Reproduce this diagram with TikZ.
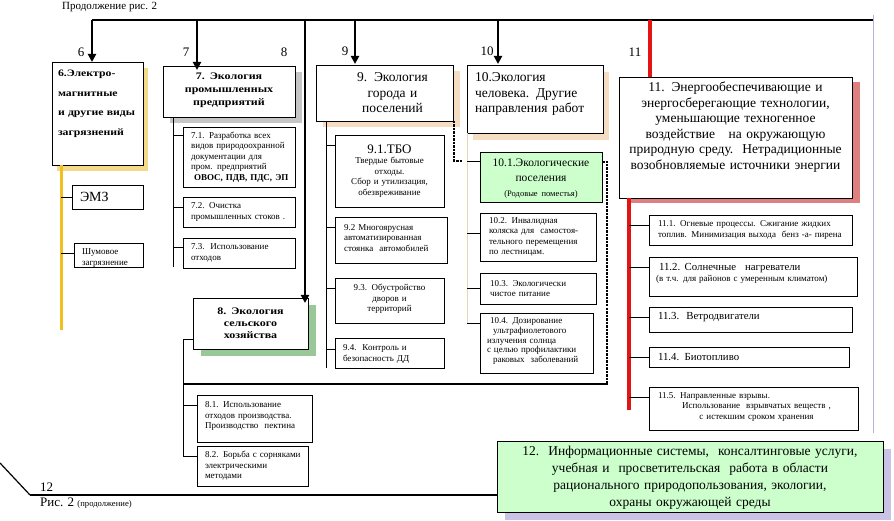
\documentclass[tikz,border=0pt]{standalone}
\usepackage{fontspec}
\setmainfont{Liberation Serif}
\newfontfamily\wbf[FakeStretch=1.2]{Liberation Serif}
\usetikzlibrary{calc,arrows.meta,shadows}
\definecolor{shY}{HTML}{F3DA88}
\definecolor{shG}{HTML}{C6C6C6}
\definecolor{shGr}{HTML}{98C898}
\definecolor{shP}{HTML}{F6DCC2}
\definecolor{shR}{HTML}{DE8080}
\definecolor{shL}{HTML}{CBC3E5}
\definecolor{lgreen}{HTML}{CCFFCC}
\definecolor{gold}{HTML}{F0C020}
\definecolor{lav}{HTML}{BFAFDC}
\definecolor{tan}{HTML}{EBD3B8}
\definecolor{rd}{RGB}{226,20,20}
\newcommand\bx[9]{%
  \pgfmathsetmacro\bxw{#4-#2}%
  \pgfmathsetmacro\bxh{#5-#3}%
  \pgfmathsetmacro\bxtw{#4-#2-12}%
  \pgfmathsetmacro\bxcx{(#2+#4)/2}%
  \pgfmathsetmacro\bxcy{(#3+#5)/2}%
  \node[box,#6,minimum width=\bxw pt,minimum height=\bxh pt] (#1) at (\bxcx,\bxcy) {};%
  \node[txt,text width=\bxtw pt,#7] (#1t) at ($(#1.center)+(0,#8)$) {#9};%
}
\begin{document}
\begin{tikzpicture}[x=1pt,y=-1pt,
  box/.style={draw,line width=0.9pt,fill=white,inner sep=0pt,outer sep=0pt},
  txt/.style={inner sep=0pt,align=left,font=\fontsize{9}{10.5}\selectfont},
  shd/.style n args={3}{drop shadow={fill=#1,opacity=1,shadow xshift=#2pt,shadow yshift=-#3pt}},
  s/.style={font=\fontsize{9}{10.5}\selectfont},
  m/.style={font=\fontsize{10.8}{12.5}\selectfont},
  L/.style={font=\fontsize{13.5}{15.5}\selectfont},
  bd/.style={font=\wbf\bfseries\fontsize{10}{13}\selectfont},
  lbl/.style={inner sep=0pt,font=\fontsize{13}{15}\selectfont},
  conn/.style={line width=0.9pt},
  arr/.style={line width=2.6pt,-{Triangle[width=8pt,length=8pt]}},
  dsh/.style={line width=1.8pt,dash pattern=on 2.5pt off 1pt},
]
\useasboundingbox (0,0) rectangle (894,521);

% ---------- boxes ----------
\bx{b6}{52}{62}{143}{165}{shd={shY}{5}{6}}{font=\wbf\bfseries\fontsize{9.8}{19.5}\selectfont}{-9.5}{6.Электро-\\магнитные\\и другие виды\\загрязнений}
\bx{emz}{72}{185}{143}{209}{}{font=\fontsize{14}{16}\selectfont,xshift=2pt}{0}{ЭМЗ}
\bx{shum}{74}{243}{143}{267}{}{xshift=2pt}{3}{Шумовое\\загрязнение}

\bx{b7}{163}{66}{295}{117}{shd={shG}{7}{6}}{bd,align=center}{-1.5}{7. Экология\\промышленных\\предприятий}
\bx{b71}{183}{127}{295}{187}{}{xshift=2pt}{0}{7.1. Разработка всех\\видов природоохранной\\документации для\\пром. предприятий\\{\bfseries\fontsize{9}{11}\selectfont\ ОВОС, ПДВ, ПДС, ЭП}}
\bx{b72}{183}{197}{295}{227}{}{xshift=2pt}{0}{7.2. Очистка\\промышленных стоков .}
\bx{b73}{183}{238}{295}{268}{}{xshift=2pt}{0}{7.3.\ \ Использование\\отходов}

\bx{b8}{193}{298}{308}{349}{shd={shGr}{8}{7}}{font=\wbf\bfseries\fontsize{10}{12}\selectfont,align=center}{0}{8. Экология\\сельского\\хозяйства}
\bx{b81}{197}{395}{312}{442}{}{xshift=2pt}{-2.5}{8.1. Использование\\отходов производства.\\Производство\ \ пектина}
\bx{b82}{197}{446}{308}{486}{}{xshift=2pt}{0}{8.2. Борьба с сорняками\\электрическими\\методами}

\bx{b9}{316}{65}{453}{121}{shd={shP}{7}{6}}{L,align=center,xshift=8pt}{0}{9. Экология\\города и\\поселений}
\bx{b91}{335}{135}{444}{207}{}{align=center}{0}{{\fontsize{13}{15}\selectfont 9.1.ТБО}\\Твердые бытовые\\отходы.\\Сбор и утилизация,\\обезвреживание}
\bx{b92}{335}{217}{447}{263}{}{xshift=3pt}{-2}{9.2 Многоярусная\\автоматизированная\\стоянка\ \ автомобилей}
\bx{b93}{335}{278}{444}{323}{}{align=center}{-1.5}{9.3. Обустройство\\дворов и\\территорий}
\bx{b94}{335}{338}{444}{368}{}{xshift=2pt}{1}{9.4.\ \ Контроль и\\безопасность ДД}

\bx{b10}{467}{65}{603}{133}{shd={shP}{6}{7}}{L,xshift=2pt}{-5}{10.Экология\\человека. Другие\\направления работ}
\bx{b101}{480}{152}{602}{202}{fill=lgreen}{align=center,font=\fontsize{11.5}{15}\selectfont}{1.5}{10.1.Экологические\\поселения\\{\fontsize{8.5}{10}\selectfont(Родовые поместья)}}
\bx{b102}{480}{213}{596}{261}{}{xshift=3pt}{0}{10.2. Инвалидная\\коляска для\ \ самостоя-\\тельного перемещения\\по лестницам.}
\bx{b103}{480}{273}{596}{304}{}{xshift=4pt}{0}{10.3. Экологически\\чистое питание}
\bx{b104}{480}{313}{593}{373}{}{font=\fontsize{9}{9.6}\selectfont,xshift=1pt}{-2}{\ 10.4. Дозирование\\\ \ ультрафиолетового\\излучения солнца\\с целью профилактики\\\ \ раковых\ \ заболеваний}

\bx{b11}{619}{77}{852}{198}{shd={shR}{8}{5}}{L,align=center}{-10.5}{11. Энергообеспечивающие и\\энергосберегающие технологии,\\уменьшающие техногенное\\воздействие\ \ \ на окружающую\\природную среду.\ \ Нетрадиционные\\возобновляемые источники энергии}
\bx{b111}{649}{215}{852}{245}{}{xshift=3pt}{0}{11.1. Огневые процессы. Сжигание жидких\\топлив. Минимизация выхода\ \ бенз -а- пирена}
\bx{b112}{649}{257}{857}{296}{}{xshift=1pt}{-3}{{\fontsize{10.8}{12}\selectfont\ 11.2. Солнечные\ \ \ нагреватели}\\(в т.ч. для районов с умеренным климатом)}
\bx{b113}{649}{307}{852}{332}{}{m,xshift=3pt}{-2}{11.3.\ \ Ветродвигатели}
\bx{b114}{649}{347}{849}{367}{}{m,xshift=3pt}{0}{11.4. Биотопливо}
\bx{b115}{649}{387}{858}{430}{}{align=center,xshift=3pt}{-2}{\makebox[\linewidth][l]{11.5. Направленные взрывы.}\\Использование\ \ взрывчатых веществ ,\\с истекшим сроком хранения}

\bx{b12}{497}{441}{883}{512}{fill=lgreen,shd={shL}{8}{8}}{align=center,font=\fontsize{13.5}{17}\selectfont}{1}{12.\ \ Информационные системы,\ \ консалтинговые услуги,\\учебная и\ \ просветительская\ \ работа в области\\рационального природопользования, экологии,\\охраны окружающей среды}

% ---------- labels ----------
\node[inner sep=0pt,anchor=west,font=\fontsize{11}{13}\selectfont] (title) at (62,7) {Продолжение рис. 2};
\node[lbl] (n6) at (81,52) {6};
\node[lbl] (n7) at (186,52) {7};
\node[lbl] (n8) at (284,52) {8};
\node[lbl] (n9) at (345,51) {9};
\node[lbl] (n10) at (487,51) {10};
\node[lbl] (n11) at (635,52) {11};
\node[lbl,anchor=west] (n12) at (40,487) {12};
\node[inner sep=0pt,anchor=west] (ris) at (40,503) {\fontsize{13}{15}\selectfont Рис. 2 {\fontsize{8.6}{10}\selectfont(продолжение)}};

% ---------- top bus ----------
\coordinate (topL) at (92,20);
\coordinate (topR) at (873,20);
\coordinate (t7) at (197,20);
\coordinate (t8) at (305,20);
\coordinate (t9) at (355,20);
\coordinate (t10) at (498,20);
\coordinate (t11) at (650,20);
\draw[line width=1.4pt] (topL) -- (topR);
\draw[lav,line width=1pt] (873,15) -- (873,433);
\draw[arr] (topL) -- (topL |- b6.north);
\draw[arr] (t7) -- ($(t7 |- b7.north)+(0,4)$);
\draw[arr] (t8) -- ($(t8 |- b8.north)+(0,5)$);
\draw[arr] (t9) -- ($(t9 |- b9.north)+(0,-1)$);
\draw[arr] (t10) -- ($(t10 |- b10.north)+(0,-1)$);
\draw[rd,line width=3.5pt] (t11) -- (t11 |- b11.north);

% ---------- 6 branch ----------
\draw[gold,line width=3pt] ($(b6.south west)+(9,0)$) -- (61,330);
\draw[conn] (emz.west) -- ++(-11,0);
\draw[conn] ($(shum.north west)+(0,10)$) -- ++(-13,0);

% ---------- 7 branch ----------
\draw[conn] ($(b7.south west)+(10,0)$) -- (173,267);
\draw[conn] ($(b71.north west)+(0,8)$) -- ++(-10,0);
\draw[conn] ($(b72.north west)+(0,10)$) -- ++(-10,0);
\draw[conn] ($(b73.north west)+(0,9)$) -- ++(-10,0);

% ---------- 8 branch ----------
\draw[conn] ($(b8.south west)+(0,-10)$) -- ++(-10,0) -- (183,456);
\draw[conn] ($(b81.north west)+(0,10)$) -- ++(-14,0);
\draw[conn] ($(b82.north west)+(0,10)$) -- ++(-14,0);
\draw[line width=2.4pt] (183,384) -- (608,384);

% ---------- 9 branch ----------
\draw[conn] ($(b9.south west)+(10,0)$) -- (326,368);
\draw[conn] ($(b91.north west)+(0,10)$) -- ++(-9,0);
\draw[conn] ($(b92.north west)+(0,10)$) -- ++(-9,0);
\draw[conn] ($(b93.north west)+(0,10)$) -- ++(-9,0);
\draw[conn] ($(b94.north west)+(0,11)$) -- ++(-9,0);
\draw[dsh] ($(b9.south east)+(1,0)$) -- (454,161) -- (463,161);

% ---------- 10 branch ----------
\draw[tan,line width=1pt] (b10.south -| 467,0) -- (467,323);
\draw[conn] ($(b101.north west)+(0,9)$) -- ++(-13,0);
\draw[conn] ($(b102.north west)+(0,20)$) -- ++(-13,0);
\draw[conn] ($(b103.north west)+(0,15)$) -- ++(-13,0);
\draw[conn] ($(b104.north west)+(0,10)$) -- ++(-13,0);
\draw[dsh] ($(b101.north east)+(0,10)$) -- (607,162) -- (607,384);

% ---------- 11 branch ----------
\draw[rd,line width=3.5pt] (b11.south -| 629,0) -- (629,410);
\draw[conn] ($(b111.north west)+(0,10)$) -- ++(-20,0);
\draw[conn] ($(b112.north west)+(0,10)$) -- ++(-20,0);
\draw[conn] ($(b113.north west)+(0,10)$) -- ++(-20,0);
\draw[conn] ($(b114.north west)+(0,10)$) -- ++(-20,0);
\draw[conn] ($(b115.north west)+(0,10)$) -- ++(-20,0);

% ---------- 12 ----------
\coordinate (diag) at (0,463);
\draw[line width=1.2pt] (diag) -- (30,495);
\draw[line width=2pt] (30,495) -- (b12.west |- 0,495);
\end{tikzpicture}
\end{document}
